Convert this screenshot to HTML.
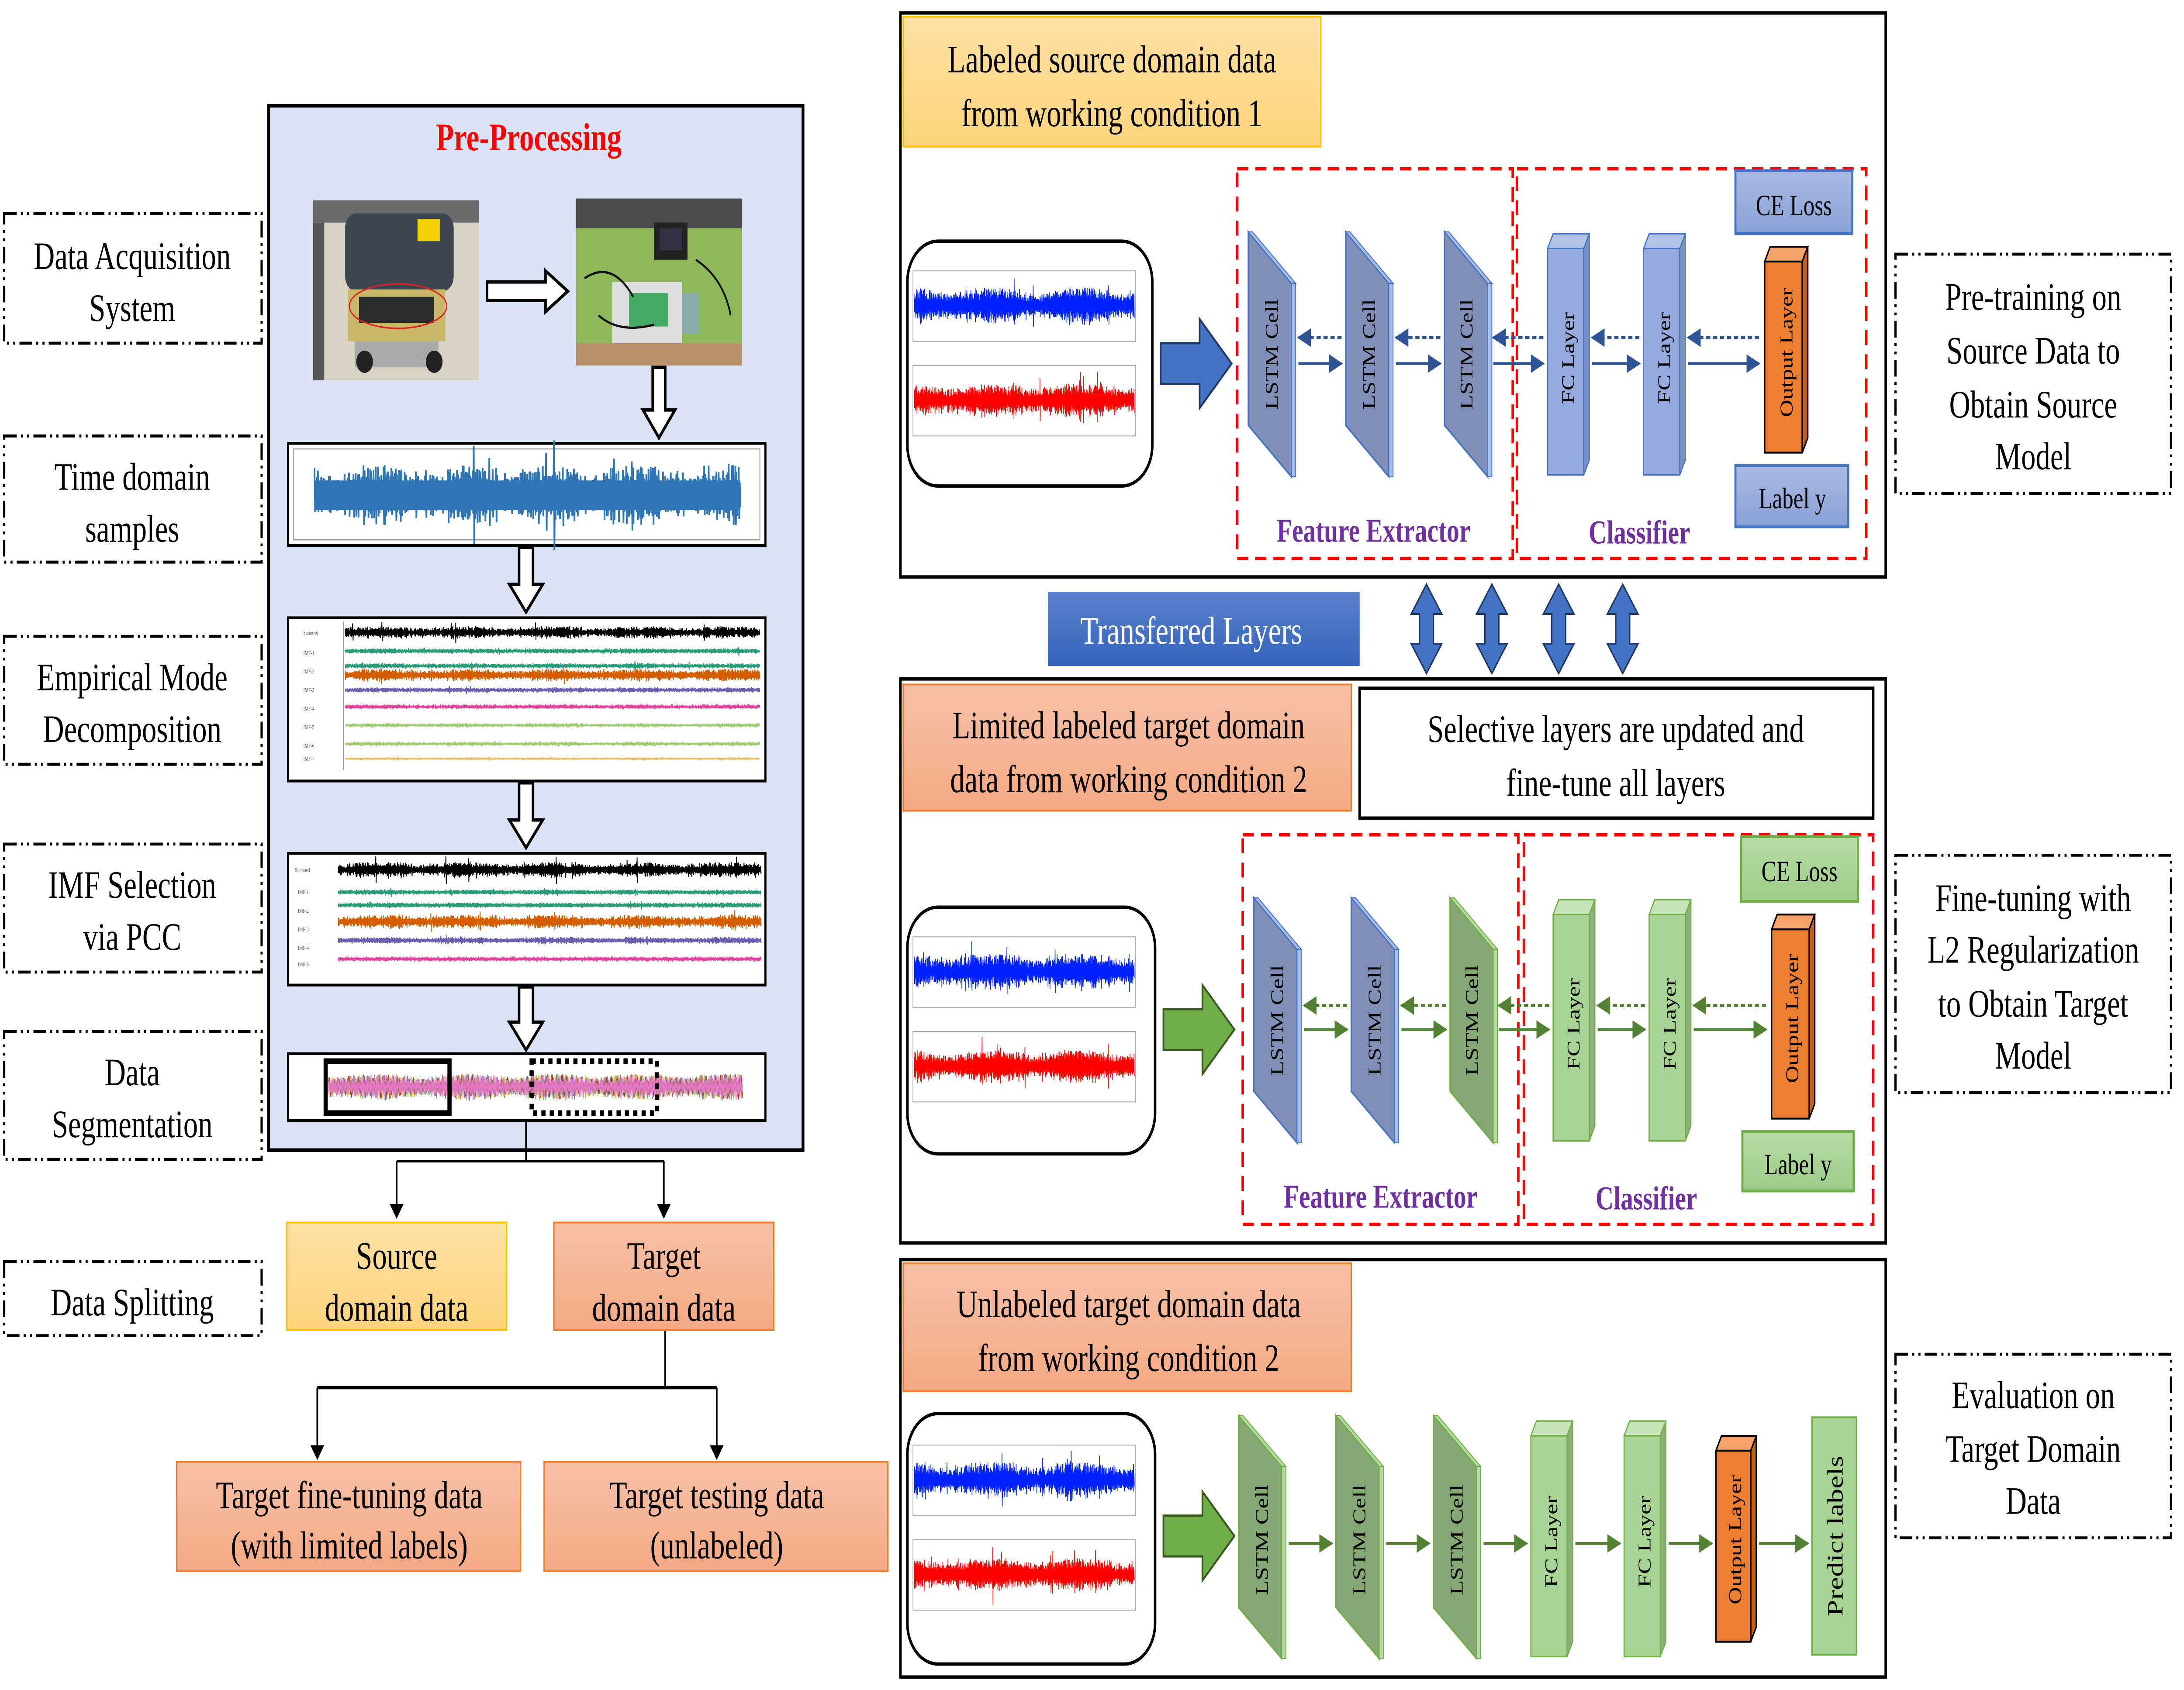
<!DOCTYPE html>
<html><head><meta charset="utf-8">
<style>
html,body{margin:0;padding:0;background:#fff;width:4995.75px;height:3870px;overflow:hidden;}
svg{display:block;width:4995.75px;height:3870px;position:absolute;left:0;top:0;}
text{font-family:"Liberation Serif",serif;}
</style></head>
<body>
<svg id="s" width="4995.75px" height="3870px" viewBox="0 0 1568 911" preserveAspectRatio="none" xmlns="http://www.w3.org/2000/svg">
<defs>
<marker id="ah" markerWidth="8" markerHeight="10" refX="7" refY="5" orient="auto" markerUnits="userSpaceOnUse"><path d="M0,0 L8,5 L0,10 Z" fill="#000"/></marker>
<marker id="bh" markerWidth="10" markerHeight="10" refX="9" refY="5" orient="auto" markerUnits="userSpaceOnUse"><path d="M0,0 L10,5 L0,10 Z" fill="#2f5597"/></marker>
<marker id="gh" markerWidth="10" markerHeight="10" refX="9" refY="5" orient="auto" markerUnits="userSpaceOnUse"><path d="M0,0 L10,5 L0,10 Z" fill="#548235"/></marker>
<linearGradient id="gy" x1="0" y1="0" x2="0" y2="1"><stop offset="0" stop-color="#fde0a3"/><stop offset="1" stop-color="#fdd47c"/></linearGradient>
<linearGradient id="gs" x1="0" y1="0" x2="0" y2="1"><stop offset="0" stop-color="#f7c0a6"/><stop offset="1" stop-color="#f4a984"/></linearGradient>
<linearGradient id="gb" x1="0" y1="0" x2="0" y2="1"><stop offset="0" stop-color="#5b82cc"/><stop offset="1" stop-color="#3563bb"/></linearGradient>
<linearGradient id="gbl" x1="0" y1="0" x2="0" y2="1"><stop offset="0" stop-color="#a9b9e2"/><stop offset="1" stop-color="#8aa0d6"/></linearGradient>
<linearGradient id="ggl" x1="0" y1="0" x2="0" y2="1"><stop offset="0" stop-color="#b8dba6"/><stop offset="1" stop-color="#9ccc86"/></linearGradient>
</defs>
<rect width="1568" height="911" fill="#fff"/>

<g fill="none" stroke="#000" stroke-width="1.6" stroke-dasharray="9 3 1.5 3 1.5 3">
<rect x="3" y="115" width="185" height="70"/>
<rect x="3" y="235" width="185" height="68"/>
<rect x="3" y="343" width="185" height="69"/>
<rect x="3" y="455" width="185" height="69"/>
<rect x="3" y="556" width="185" height="69"/>
<rect x="3" y="680" width="185" height="40"/>
<rect x="1362" y="137" width="198" height="129"/>
<rect x="1362" y="461" width="198" height="128"/>
<rect x="1362" y="730" width="198" height="99"/>
</g>
<g font-size="21" text-anchor="middle" fill="#000">
<text x="95" y="145">Data Acquisition</text><text x="95" y="173">System</text>
<text x="95" y="264">Time domain</text><text x="95" y="292">samples</text>
<text x="95" y="372">Empirical Mode</text><text x="95" y="400">Decomposition</text>
<text x="95" y="484">IMF Selection</text><text x="95" y="512">via PCC</text>
<text x="95" y="585">Data</text><text x="95" y="613">Segmentation</text>
<text x="95" y="709">Data Splitting</text>
<text x="1461" y="167">Pre-training on</text><text x="1461" y="196">Source Data to</text><text x="1461" y="225">Obtain Source</text><text x="1461" y="253">Model</text>
<text x="1461" y="491">Fine-tuning with</text><text x="1461" y="519">L2 Regularization</text><text x="1461" y="548">to Obtain Target</text><text x="1461" y="576">Model</text>
<text x="1461" y="759">Evaluation on</text><text x="1461" y="788">Target Domain</text><text x="1461" y="816">Data</text>
</g>

<rect x="193" y="57" width="384" height="563" fill="#dae3f3" stroke="#000" stroke-width="2"/>
<text x="380" y="81" font-size="21" font-weight="bold" fill="#ff0000" text-anchor="middle">Pre-Processing</text>
<rect x="225" y="108" width="119" height="97" fill="#d8d3c4"/>
<rect x="225" y="108" width="119" height="12" fill="#6b6b6b"/>
<rect x="248" y="115" width="78" height="42" rx="8" fill="#3d4650"/>
<rect x="300" y="118" width="16" height="12" fill="#f0d000"/>
<rect x="250" y="156" width="70" height="28" fill="#c9b76a"/>
<rect x="258" y="160" width="54" height="14" fill="#2b2b2b"/>
<ellipse cx="286" cy="165" rx="35" ry="12" fill="none" stroke="#d22" stroke-width="0.8"/>
<rect x="255" y="184" width="60" height="14" fill="#a9a9a9"/>
<circle cx="262" cy="195" r="6" fill="#222"/><circle cx="312" cy="195" r="6" fill="#222"/>
<rect x="225" y="120" width="8" height="85" fill="#555"/>
<path d="M350,152 L392,152 L392,146 L408,157 L392,168 L392,162 L350,162 Z" fill="#fff" stroke="#000" stroke-width="1.8"/>
<rect x="414" y="107" width="119" height="90" fill="#8fb85a"/>
<rect x="414" y="107" width="119" height="16" fill="#4c4c4c"/>
<rect x="414" y="185" width="119" height="12" fill="#b9926a"/>
<rect x="470" y="120" width="24" height="20" fill="#222"/><rect x="474" y="123" width="16" height="12" fill="#334"/>
<rect x="440" y="152" width="50" height="33" fill="#ddd"/><rect x="452" y="158" width="28" height="18" fill="#4a6"/>
<rect x="490" y="158" width="12" height="22" fill="#8aa"/>
<path d="M420,150 Q440,140 455,160 M500,140 Q520,150 525,170 M430,170 Q445,180 470,175" stroke="#111" fill="none" stroke-width="1.2"/>
<path d="M469,198 L478,198 L478,221 L485,221 L473.5,236 L462,221 L469,221 Z" fill="#fff" stroke="#000" stroke-width="1.8"/>
<path d="M373,295 L383,295 L383,315 L390,315 L378,330 L366,315 L373,315 Z" fill="#fff" stroke="#000" stroke-width="1.8"/>
<path d="M373,422 L383,422 L383,442 L390,442 L378,457 L366,442 L373,442 Z" fill="#fff" stroke="#000" stroke-width="1.8"/>
<path d="M373,532 L383,532 L383,551 L390,551 L378,566 L366,551 L373,551 Z" fill="#fff" stroke="#000" stroke-width="1.8"/>
<rect x="207" y="239" width="343" height="55" fill="#fff" stroke="#000" stroke-width="1.5"/>
<rect x="211" y="242" width="335" height="49" fill="none" stroke="#999" stroke-width="0.6"/>
<g id="tw"></g>
<rect x="207" y="333" width="343" height="88" fill="#fff" stroke="#000" stroke-width="1.5"/>
<g font-size="3" fill="#555" font-family="Liberation Sans,sans-serif">
<text x="218" y="342">Summed</text><text x="218" y="353">IMF-1</text><text x="218" y="363">IMF-2</text><text x="218" y="373">IMF-3</text><text x="218" y="383">IMF-4</text><text x="218" y="393">IMF-5</text><text x="218" y="403">IMF-6</text><text x="218" y="410">IMF-7</text>
</g>
<g id="emd"></g>
<rect x="207" y="460" width="343" height="71" fill="#fff" stroke="#000" stroke-width="1.5"/>
<g font-size="3" fill="#555" font-family="Liberation Sans,sans-serif">
<text x="212" y="470">Summed</text><text x="214" y="482">IMF-1</text><text x="214" y="492">IMF-2</text><text x="214" y="502">IMF-3</text><text x="214" y="512">IMF-4</text><text x="214" y="521">IMF-5</text>
</g>
<g id="imf"></g>
<rect x="207" y="568" width="343" height="36" fill="#fff" stroke="#000" stroke-width="1.5"/>
<g id="seg"></g>
<rect x="234" y="572" width="89" height="28" fill="none" stroke="#000" stroke-width="3"/>
<rect x="382" y="572" width="90" height="28" fill="none" stroke="#000" stroke-width="3" stroke-dasharray="3 3"/>

<g stroke="#000" stroke-width="1.2" fill="none">
<line x1="378" y1="604" x2="378" y2="626"/>
<line x1="285" y1="626" x2="477" y2="626"/>
<line x1="285" y1="626" x2="285" y2="656" marker-end="url(#ah)"/>
<line x1="477" y1="626" x2="477" y2="656" marker-end="url(#ah)"/>
<line x1="478" y1="717" x2="478" y2="748"/>
<line x1="228" y1="748" x2="515" y2="748" stroke-width="1.8"/>
<line x1="228" y1="748" x2="228" y2="786" marker-end="url(#ah)"/>
<line x1="515" y1="748" x2="515" y2="786" marker-end="url(#ah)"/>
</g>
<rect x="206" y="659" width="158" height="58" fill="url(#gy)" stroke="#ffc000" stroke-width="1"/>
<rect x="398" y="659" width="158" height="58" fill="url(#gs)" stroke="#ed7d31" stroke-width="1"/>
<rect x="127" y="788" width="247" height="59" fill="url(#gs)" stroke="#ed7d31" stroke-width="1"/>
<rect x="391" y="788" width="247" height="59" fill="url(#gs)" stroke="#ed7d31" stroke-width="1"/>
<g font-size="21" text-anchor="middle">
<text x="285" y="684">Source</text><text x="285" y="712">domain data</text>
<text x="477" y="684">Target</text><text x="477" y="712">domain data</text>
<text x="251" y="813">Target fine-tuning data</text><text x="251" y="840">(with limited labels)</text>
<text x="515" y="813">Target testing data</text><text x="515" y="840">(unlabeled)</text>
</g>

<rect x="647" y="7" width="708" height="304" fill="#fff" stroke="#000" stroke-width="1.8"/>
<rect x="647" y="366" width="708" height="304" fill="#fff" stroke="#000" stroke-width="1.8"/>
<rect x="647" y="679" width="708" height="225" fill="#fff" stroke="#000" stroke-width="1.8"/>

<rect x="649" y="9" width="300" height="70" fill="url(#gy)" stroke="#ffc000"/>
<g font-size="21" text-anchor="middle"><text x="799" y="39">Labeled source domain data</text><text x="799" y="68">from working condition 1</text></g>
<rect x="649" y="369" width="322" height="68" fill="url(#gs)" stroke="#ed7d31"/>
<g font-size="21" text-anchor="middle"><text x="811" y="398">Limited labeled target domain</text><text x="811" y="427">data from working condition 2</text></g>
<rect x="977" y="371" width="369" height="70" fill="#fff" stroke="#000" stroke-width="1.8"/>
<g font-size="21" text-anchor="middle"><text x="1161" y="400">Selective layers are updated and</text><text x="1161" y="429">fine-tune all layers</text></g>
<rect x="649" y="681" width="322" height="69" fill="url(#gs)" stroke="#ed7d31"/>
<g font-size="21" text-anchor="middle"><text x="811" y="710">Unlabeled target domain data</text><text x="811" y="739">from working condition 2</text></g>

<rect x="753" y="319" width="224" height="40" fill="url(#gb)"/>
<text x="856" y="347" font-size="21" fill="#fff" text-anchor="middle">Transferred Layers</text>

<rect x="652" y="130" width="176" height="132" rx="22" fill="#fff" stroke="#000" stroke-width="1.8"/>
<rect x="652" y="489" width="178" height="133" rx="22" fill="#fff" stroke="#000" stroke-width="1.8"/>
<rect x="652" y="762" width="178" height="135" rx="22" fill="#fff" stroke="#000" stroke-width="1.8"/>
<g id="sig"></g>

<path d="M834,185 L862,185 L862,172 L885,196 L862,220 L862,207 L834,207 Z" fill="#4472c4" stroke="#1f3864" stroke-width="1.2"/>
<path d="M836,544 L864,544 L864,531 L887,555 L864,579 L864,566 L836,566 Z" fill="#70ad47" stroke="#385723" stroke-width="1.2"/>
<path d="M836,817 L864,817 L864,804 L887,828 L864,852 L864,839 L836,839 Z" fill="#70ad47" stroke="#385723" stroke-width="1.2"/>

<g fill="none" stroke="#ff0000" stroke-width="1.8" stroke-dasharray="8 5">
<rect x="889" y="91" width="198" height="210"/><rect x="1090" y="91" width="251" height="210"/>
<rect x="893" y="450" width="198" height="210"/><rect x="1095" y="450" width="251" height="210"/>
</g>
<g font-size="18" font-weight="bold" fill="#7030a0" text-anchor="middle">
<text x="987" y="292">Feature Extractor</text><text x="1178" y="293">Classifier</text>
<text x="992" y="651">Feature Extractor</text><text x="1183" y="652">Classifier</text>
</g>

<g id="net"></g>

<rect x="1247" y="92" width="84" height="34" fill="url(#gbl)" stroke="#4472c4" stroke-width="1.5"/>
<text x="1289" y="116" font-size="16" text-anchor="middle">CE Loss</text>
<rect x="1247" y="251" width="81" height="33" fill="url(#gbl)" stroke="#4472c4" stroke-width="1.5"/>
<text x="1288" y="274" font-size="16" text-anchor="middle">Label y</text>
<rect x="1251" y="451" width="84" height="35" fill="url(#ggl)" stroke="#70ad47" stroke-width="1.5"/>
<text x="1293" y="475" font-size="16" text-anchor="middle">CE Loss</text>
<rect x="1252" y="610" width="80" height="32" fill="url(#ggl)" stroke="#70ad47" stroke-width="1.5"/>
<text x="1292" y="633" font-size="16" text-anchor="middle">Label y</text>

<g font-size="13" text-anchor="middle">
<text transform="translate(918,191) rotate(-90)">LSTM Cell</text>
<text transform="translate(988,191) rotate(-90)">LSTM Cell</text>
<text transform="translate(1058,191) rotate(-90)">LSTM Cell</text>
<text transform="translate(1131,193) rotate(-90)">FC Layer</text>
<text transform="translate(1200,193) rotate(-90)">FC Layer</text>
<text transform="translate(1288,190) rotate(-90)">Output Layer</text>
<text transform="translate(922,550) rotate(-90)">LSTM Cell</text>
<text transform="translate(992,550) rotate(-90)">LSTM Cell</text>
<text transform="translate(1062,550) rotate(-90)">LSTM Cell</text>
<text transform="translate(1135,552) rotate(-90)">FC Layer</text>
<text transform="translate(1204,552) rotate(-90)">FC Layer</text>
<text transform="translate(1292,549) rotate(-90)">Output Layer</text>
<text transform="translate(911,830) rotate(-90)">LSTM Cell</text>
<text transform="translate(981,830) rotate(-90)">LSTM Cell</text>
<text transform="translate(1051,830) rotate(-90)">LSTM Cell</text>
<text transform="translate(1119,831) rotate(-90)">FC Layer</text>
<text transform="translate(1186,831) rotate(-90)">FC Layer</text>
<text transform="translate(1251,830) rotate(-90)">Output Layer</text>
<text transform="translate(1324,828) rotate(-90)" font-size="16">Predict labels</text>
</g>
</svg>
<script>
(function(){
var NS="http://www.w3.org/2000/svg";
var seed=12345;function r(){seed=(seed*16807)%2147483647;return seed/2147483647;}
function el(parent,tag,attrs){var e=document.createElementNS(NS,tag);for(var k in attrs)e.setAttribute(k,attrs[k]);(typeof parent=="string"?document.getElementById(parent):parent).appendChild(e);return e;}
function wave(g,x0,x1,yc,amp,col,step,sw,spike){var d="";for(var x=x0;x<=x1;x+=step){var a=amp*(0.55+0.45*Math.abs(Math.sin(x*0.05+r())))*(r()*0.6+0.4);if(spike&&r()<0.02)a*=1.8;d+=(d?"L":"M")+x.toFixed(2)+","+(yc-a).toFixed(2)+"L"+(x+step/2).toFixed(2)+","+(yc+a*(0.6+r()*0.5)).toFixed(2);}el(g,"path",{d:d,stroke:col,"stroke-width":sw,fill:"none"});}
wave("tw",226,532,267,17,"#2e75b6",0.8,1.2,true);
el("tw","rect",{x:226,y:259,width:306,height:16,fill:"#2e75b6"});
var ec=[["#000",338,3.5],["#2a9d78",348,1.5],["#2a9d78",356,1.5],["#d45f00",361,3.5],["#6c5fb0",369,1.5],["#e0409a",378,0.8],["#9ccc6e",388,0.6],["#9ccc6e",398,0.6],["#e2c070",406,0.4]];
el("emd","line",{x1:247,y1:335,x2:247,y2:415,stroke:"#666","stroke-width":0.4});
ec.forEach(function(c){wave("emd",248,546,c[1]+3,c[2],c[0],0.6,0.6,true);});
var ic=[["#000",469,4.5],["#2a9d78",481,1.5],["#2a9d78",488,1.5],["#d45f00",497,4],["#6c5fb0",507,2],["#e0409a",517,1]];
ic.forEach(function(c){wave("imf",243,547,c[1],c[2],c[0],0.6,0.6,true);});
var sc=["#ff7f0e","#2ca02c","#d62728","#bcbd22","#9467bd","#8c564b","#e377c2"];
sc.forEach(function(c){wave("seg",236,533,586,7,c,0.9,0.5,false);});
function sig(x,y,w){el("sig","rect",{x:x,y:y,width:w,height:38,fill:"#fff",stroke:"#aaa","stroke-width":0.5});wave("sig",x+1,x+w-1,y+19,10,"#0022ff",0.35,0.5,true);
 el("sig","rect",{x:x,y:y+51,width:w,height:38,fill:"#fff",stroke:"#aaa","stroke-width":0.5});wave("sig",x+1,x+w-1,y+70,9,"#ff0000",0.35,0.5,true);}
sig(656,146,160);sig(656,505,160);sig(656,779,160);
var net=document.getElementById("net");
function lstm(x,y,h,fill,edge,light){var w=34;el(net,"polygon",{points:[x,y,x+w-3,y+0.21*h,x+w-3,y+h,x,y+0.79*h].join(","),fill:fill,stroke:edge,"stroke-width":1});
 el(net,"polygon",{points:[x+w-3,y+0.21*h,x+w,y+0.21*h,x+w,y+h,x+w-3,y+h].join(","),fill:light,stroke:edge,"stroke-width":0.6});
 el(net,"polygon",{points:[x,y,x+3,y,x+w,y+0.21*h,x+w-3,y+0.21*h].join(","),fill:light,stroke:edge,"stroke-width":0.6});}
function box(x,y,h,w,fill,edge,top,side,sw){el(net,"polygon",{points:[x,y+8,x+4,y,x+w,y,x+w-4,y+8].join(","),fill:top,stroke:edge,"stroke-width":sw||0.8});
 el(net,"polygon",{points:[x+w-4,y+8,x+w,y,x+w,y+h-8,x+w-4,y+h].join(","),fill:side,stroke:edge,"stroke-width":sw||0.8});
 el(net,"rect",{x:x,y:y+8,width:w-4,height:h-8,fill:fill,stroke:edge,"stroke-width":sw||0.8});}
var B=["#7f8fb5","#4472c4","#a9bde6"],G=["#86a874","#70ad47","#b5dca0"];
lstm(897,125,132,B[0],B[1],B[2]);lstm(967,125,132,B[0],B[1],B[2]);lstm(1038,125,132,B[0],B[1],B[2]);
box(1112,126,130,30,"#96a9dc","#4472c4","#b4c4e8","#7f90c0");box(1181,126,130,30,"#96a9dc","#4472c4","#b4c4e8","#7f90c0");
box(1268,133,111,31,"#ed7d31","#000","#f4a46a","#c0601c",1);
lstm(901,484,132,B[0],B[1],B[2]);lstm(971,484,132,B[0],B[1],B[2]);lstm(1042,484,132,G[0],G[1],G[2]);
box(1116,485,130,30,"#a8d493","#70ad47","#c7e4b8","#8fb07c");box(1185,485,130,30,"#a8d493","#70ad47","#c7e4b8","#8fb07c");
box(1273,493,110,31,"#ed7d31","#000","#f4a46a","#c0601c",1);
lstm(890,763,131,G[0],G[1],G[2]);lstm(960,763,131,G[0],G[1],G[2]);lstm(1030,763,131,G[0],G[1],G[2]);
box(1100,766,127,30,"#a8d493","#70ad47","#c7e4b8","#8fb07c");box(1167,766,127,30,"#a8d493","#70ad47","#c7e4b8","#8fb07c");
box(1233,774,111,29,"#ed7d31","#000","#f4a46a","#c0601c",1);
el(net,"rect",{x:1302,y:764,width:32,height:128,fill:"#a8d493",stroke:"#70ad47","stroke-width":1});
function arr(x1,x2,y,c,m,dash){var a={x1:x1,y1:y,x2:x2,y2:y,stroke:c,"stroke-width":1.6,"marker-end":"url(#"+m+")"};if(dash)a["stroke-dasharray"]="3 2";el(net,"line",a);}
[[933,964],[1003,1035],[1073,1109],[1144,1178],[1213,1264]].forEach(function(p){arr(p[0],p[1],196,"#2f5597","bh");arr(p[1],p[0],182,"#2f5597","bh",true);});
[[937,968],[1007,1039],[1077,1113],[1148,1182],[1217,1269]].forEach(function(p){arr(p[0],p[1],555,"#548235","gh");arr(p[1],p[0],542,"#548235","gh",true);});
[[926,957],[996,1027],[1066,1097],[1132,1164],[1199,1230],[1264,1299]].forEach(function(p){arr(p[0],p[1],832,"#548235","gh");});
[1025,1072,1120,1166].forEach(function(cx){
 var pts=[[cx,315],[cx+11,331],[cx+5,331],[cx+5,347],[cx+11,347],[cx,363],[cx-11,347],[cx-5,347],[cx-5,331],[cx-11,331]];
 el(net,"polygon",{points:pts.map(function(q){return q.join(",");}).join(" "),fill:"#4472c4",stroke:"#1f3864","stroke-width":1});});
})();
</script>
</body></html>
